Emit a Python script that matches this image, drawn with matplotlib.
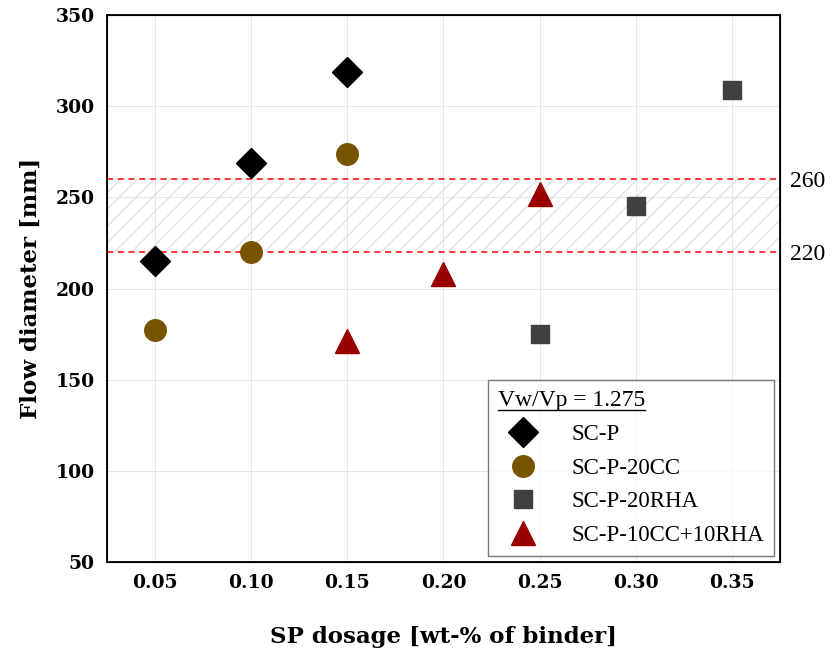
import matplotlib.pyplot as plt
import matplotlib as mpl
from matplotlib.lines import Line2D

mpl.rcParams['hatch.linewidth'] = 0.8

# data
sp_dosage_p = [0.05, 0.10, 0.15]
flow_p = [215, 269, 319]
sp_dosage_cc = [0.05, 0.10, 0.15]
flow_cc = [177, 220, 274]
sp_dosage_rha = [0.25, 0.30, 0.35]
flow_rha = [175, 245, 309]
sp_dosage_mix = [0.15, 0.20, 0.25]
flow_mix = [171, 208, 252]
x_ticks = [0.05, 0.10, 0.15, 0.20, 0.25, 0.30, 0.35]
y_ticks = [50, 100, 150, 200, 250, 300, 350]
target_band = [220, 260]

fig = plt.figure(figsize=(8.32, 6.54), dpi=100)
ax = fig.add_axes([0.1286, 0.1407, 0.8089, 0.8363])

ax.fill_between([0.025, 0.375], target_band[0], target_band[1],
                facecolor='none', edgecolor='#dcdcdc', hatch='//', linewidth=0, zorder=1)
for v in target_band:
    ax.axhline(v, color='red', linestyle=(0, (4, 3)), linewidth=1.1, zorder=2)

ax.plot(sp_dosage_p, flow_p, 'D', color='black', markersize=15, linestyle='none',
        label='SC-P', zorder=5)
ax.plot(sp_dosage_cc, flow_cc, 'o', color='#775400', markersize=15.5, linestyle='none',
        label='SC-P-20CC', zorder=5)
ax.plot(sp_dosage_rha, flow_rha, 's', color='#404040', markersize=13, linestyle='none',
        label='SC-P-20RHA', zorder=5)
ax.plot(sp_dosage_mix, flow_mix, '^', color='#990000', markersize=17, linestyle='none',
        label='SC-P-10CC+10RHA', zorder=5)

ax.set_xlim(0.025, 0.375)
ax.set_ylim(50, 350)
ax.set_xticks(x_ticks)
ax.set_xticklabels([f'{t:.2f}' for t in x_ticks])
ax.set_yticks(y_ticks)
ax.grid(True, color='#e6e6e6', linewidth=0.8, zorder=0)
ax.set_axisbelow(True)
ax.tick_params(length=0, pad=9, labelsize=13.5)
for lab in ax.get_xticklabels() + ax.get_yticklabels():
    lab.set_fontfamily('DejaVu Serif')
    lab.set_fontweight('bold')
for s in ax.spines.values():
    s.set_linewidth(1.3)

ax.set_xlabel('SP dosage [wt-% of binder]', fontfamily='DejaVu Serif',
              fontweight='bold', fontsize=16.5, labelpad=24)
ax.set_ylabel('Flow diameter [mm]', fontfamily='DejaVu Serif',
              fontweight='bold', fontsize=16.5, labelpad=10)

ax2 = ax.twinx()
ax2.set_ylim(50, 350)
ax2.set_yticks(target_band)
ax2.tick_params(length=0, pad=7, labelsize=17)
for lab in ax2.get_yticklabels():
    lab.set_fontfamily('Liberation Serif')

leg = ax.legend(loc='lower right', title='Vw/Vp = 1.275',
                prop={'family': 'Liberation Serif', 'size': 16.5},
                title_fontproperties={'family': 'Liberation Serif', 'size': 17},
                frameon=True, fancybox=False,
                edgecolor='#555555', borderaxespad=0.25, handletextpad=1.0,
                labelspacing=0.55, borderpad=0.45, handlelength=2.2)
leg._legend_box.align = 'left'
leg.get_frame().set_linewidth(1.0)

# underline the legend title
fig.canvas.draw()
bb = leg.get_title().get_window_extent().transformed(fig.transFigure.inverted())
fig.add_artist(Line2D([bb.x0, bb.x1], [bb.y0 + 0.002, bb.y0 + 0.002],
                      color='black', linewidth=1.0, transform=fig.transFigure))

fig.savefig('out.png', dpi=100)
